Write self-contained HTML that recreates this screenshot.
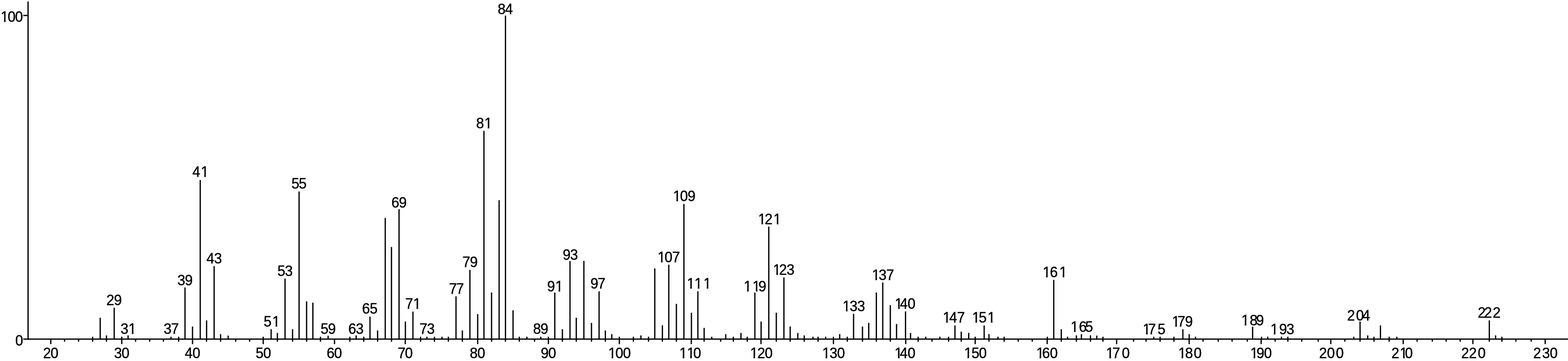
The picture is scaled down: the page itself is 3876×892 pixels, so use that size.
<!DOCTYPE html>
<html><head><meta charset="utf-8"><title>Mass spectrum</title>
<style>html,body{margin:0;padding:0;background:#fff}body{width:3876px;height:892px;overflow:hidden}svg{display:block}</style></head>
<body>
<svg width="3876" height="892" viewBox="0 0 3876 892">
<defs><clipPath id="k1"><path clip-rule="evenodd" d="M-6.4 -40H72.2V6H-6.4ZM13.85 -3.36L13.85 3.00L20.56 3.00L20.56 -0.00L20.56 -0.00L20.56 -0.70L20.56 -0.70L20.56 -1.40L20.56 -1.40L20.56 -2.10L20.56 -2.10L20.56 -2.80L20.56 -2.80L20.56 -3.36ZM9.96 -3.36L9.96 3.00L2.97 3.00L2.97 -0.00L2.97 -0.00L2.97 -0.70L2.97 -0.70L2.97 -1.40L2.97 -1.40L2.97 -2.10L2.97 -2.10L2.97 -2.80L2.97 -2.80L2.97 -3.36Z"/></clipPath>
<clipPath id="k2"><path clip-rule="evenodd" d="M1495.5 -40H1575.1V6H1495.5ZM1515.80 -3.36L1515.80 3.00L1522.51 3.00L1522.51 -0.00L1522.51 -0.00L1522.51 -0.70L1522.51 -0.70L1522.51 -1.40L1522.51 -1.40L1522.51 -2.10L1522.51 -2.10L1522.51 -2.80L1522.51 -2.80L1522.51 -3.36ZM1511.91 -3.36L1511.91 3.00L1504.92 3.00L1504.92 -0.00L1504.92 -0.00L1504.92 -0.70L1504.92 -0.70L1504.92 -1.40L1504.92 -1.40L1504.92 -2.10L1504.92 -2.10L1504.92 -2.80L1504.92 -2.80L1504.92 -3.36Z"/></clipPath>
<clipPath id="k3"><path clip-rule="evenodd" d="M1671.2 -40H1748.8V6H1671.2ZM1691.50 -3.36L1691.50 3.00L1698.21 3.00L1698.21 -0.00L1698.21 -0.00L1698.21 -0.70L1698.21 -0.70L1698.21 -1.40L1698.21 -1.40L1698.21 -2.10L1698.21 -2.10L1698.21 -2.80L1698.21 -2.80L1698.21 -3.36ZM1687.61 -3.36L1687.61 3.00L1680.62 3.00L1680.62 -0.00L1680.62 -0.00L1680.62 -0.70L1680.62 -0.70L1680.62 -1.40L1680.62 -1.40L1680.62 -2.10L1680.62 -2.10L1680.62 -2.80L1680.62 -2.80L1680.62 -3.36ZM1710.20 -3.36L1710.20 3.00L1716.91 3.00L1716.91 -0.00L1716.91 -0.00L1716.91 -0.70L1716.91 -0.70L1716.91 -1.40L1716.91 -1.40L1716.91 -2.10L1716.88 -2.10L1716.88 -2.80L1716.46 -2.80L1716.46 -3.36ZM1706.31 -3.36L1706.31 3.00L1699.32 3.00L1699.32 -0.00L1699.32 -0.00L1699.32 -0.70L1699.32 -0.70L1699.32 -1.40L1699.32 -1.40L1699.32 -2.10L1699.32 -2.10L1699.32 -2.80L1699.32 -2.80L1699.32 -3.36Z"/></clipPath>
<clipPath id="k4"><path clip-rule="evenodd" d="M1846.2 -40H1925.6V6H1846.2ZM1866.50 -3.36L1866.50 3.00L1873.21 3.00L1873.21 -0.00L1873.21 -0.00L1873.21 -0.70L1873.21 -0.70L1873.21 -1.40L1873.21 -1.40L1873.21 -2.10L1873.21 -2.10L1873.21 -2.80L1873.21 -2.80L1873.21 -3.36ZM1862.61 -3.36L1862.61 3.00L1855.62 3.00L1855.62 -0.00L1855.62 -0.00L1855.62 -0.70L1855.62 -0.70L1855.62 -1.40L1855.62 -1.40L1855.62 -2.10L1855.62 -2.10L1855.62 -2.80L1855.62 -2.80L1855.62 -3.36Z"/></clipPath>
<clipPath id="k5"><path clip-rule="evenodd" d="M2024.4 -40H2104.2V6H2024.4ZM2044.70 -3.36L2044.70 3.00L2051.41 3.00L2051.41 -0.00L2051.41 -0.00L2051.41 -0.70L2051.41 -0.70L2051.41 -1.40L2051.41 -1.40L2051.41 -2.10L2051.41 -2.10L2051.41 -2.80L2051.41 -2.80L2051.41 -3.36ZM2040.81 -3.36L2040.81 3.00L2033.82 3.00L2033.82 -0.00L2033.82 -0.00L2033.82 -0.70L2033.82 -0.70L2033.82 -1.40L2033.82 -1.40L2033.82 -2.10L2033.82 -2.10L2033.82 -2.80L2033.82 -2.80L2033.82 -3.36Z"/></clipPath>
<clipPath id="k6"><path clip-rule="evenodd" d="M2203.3 -40H2278.6V6H2203.3ZM2223.60 -3.36L2223.60 3.00L2230.31 3.00L2230.31 -0.00L2230.31 -0.00L2230.31 -0.70L2230.31 -0.70L2230.31 -1.40L2230.31 -1.40L2230.31 -2.10L2230.31 -2.10L2230.31 -2.80L2230.31 -2.80L2230.31 -3.36ZM2219.71 -3.36L2219.71 3.00L2212.72 3.00L2212.72 -0.00L2212.72 -0.00L2212.72 -0.70L2212.72 -0.70L2212.72 -1.40L2212.72 -1.40L2212.72 -2.10L2212.72 -2.10L2212.72 -2.80L2212.72 -2.80L2212.72 -3.36Z"/></clipPath>
<clipPath id="k7"><path clip-rule="evenodd" d="M2375.2 -40H2454.7V6H2375.2ZM2395.50 -3.36L2395.50 3.00L2402.21 3.00L2402.21 -0.00L2402.21 -0.00L2402.21 -0.70L2402.21 -0.70L2402.21 -1.40L2402.21 -1.40L2402.21 -2.10L2402.21 -2.10L2402.21 -2.80L2402.21 -2.80L2402.21 -3.36ZM2391.61 -3.36L2391.61 3.00L2384.62 3.00L2384.62 -0.00L2384.62 -0.00L2384.62 -0.70L2384.62 -0.70L2384.62 -1.40L2384.62 -1.40L2384.62 -2.10L2384.62 -2.10L2384.62 -2.80L2384.62 -2.80L2384.62 -3.36Z"/></clipPath>
<clipPath id="k8"><path clip-rule="evenodd" d="M2553.4 -40H2630.2V6H2553.4ZM2573.70 -3.36L2573.70 3.00L2580.41 3.00L2580.41 -0.00L2580.41 -0.00L2580.41 -0.70L2580.41 -0.70L2580.41 -1.40L2580.09 -1.40L2580.09 -2.10L2579.55 -2.10L2579.55 -2.80L2579.11 -2.80L2579.11 -3.36ZM2569.81 -3.36L2569.81 3.00L2562.82 3.00L2562.82 -0.00L2562.82 -0.00L2562.82 -0.70L2562.82 -0.70L2562.82 -1.40L2562.82 -1.40L2562.82 -2.10L2562.82 -2.10L2562.82 -2.80L2562.82 -2.80L2562.82 -3.36Z"/></clipPath>
<clipPath id="k9"><path clip-rule="evenodd" d="M2726.0 -40H2808.2V6H2726.0ZM2746.30 -3.36L2746.30 3.00L2753.01 3.00L2753.01 -0.00L2753.01 -0.00L2753.01 -0.70L2753.01 -0.70L2753.01 -1.40L2753.01 -1.40L2753.01 -2.10L2753.01 -2.10L2753.01 -2.80L2753.01 -2.80L2753.01 -3.36ZM2742.41 -3.36L2742.41 3.00L2735.42 3.00L2735.42 -0.00L2735.42 -0.00L2735.42 -0.70L2735.42 -0.70L2735.42 -1.40L2735.42 -1.40L2735.42 -2.10L2735.42 -2.10L2735.42 -2.80L2735.42 -2.80L2735.42 -3.36Z"/></clipPath>
<clipPath id="k10"><path clip-rule="evenodd" d="M2904.4 -40H2986.0V6H2904.4ZM2924.70 -3.36L2924.70 3.00L2931.41 3.00L2931.41 -0.00L2931.41 -0.00L2931.41 -0.70L2931.41 -0.70L2931.41 -1.40L2931.41 -1.40L2931.41 -2.10L2931.41 -2.10L2931.41 -2.80L2931.27 -2.80L2931.27 -3.36ZM2920.81 -3.36L2920.81 3.00L2913.82 3.00L2913.82 -0.00L2913.82 -0.00L2913.82 -0.70L2913.82 -0.70L2913.82 -1.40L2913.82 -1.40L2913.82 -2.10L2913.82 -2.10L2913.82 -2.80L2913.82 -2.80L2913.82 -3.36Z"/></clipPath>
<clipPath id="k11"><path clip-rule="evenodd" d="M3082.4 -40H3159.5V6H3082.4ZM3102.70 -3.36L3102.70 3.00L3109.41 3.00L3109.41 -0.00L3109.41 -0.00L3109.41 -0.70L3109.41 -0.70L3109.41 -1.40L3108.83 -1.40L3108.83 -2.10L3108.40 -2.10L3108.40 -2.80L3108.06 -2.80L3108.06 -3.36ZM3098.81 -3.36L3098.81 3.00L3091.82 3.00L3091.82 -0.00L3091.82 -0.00L3091.82 -0.70L3091.82 -0.70L3091.82 -1.40L3091.82 -1.40L3091.82 -2.10L3091.82 -2.10L3091.82 -2.80L3091.82 -2.80L3091.82 -3.36Z"/></clipPath>
<clipPath id="k12"><path clip-rule="evenodd" d="M3431.6 -40H3508.0V6H3431.6ZM3472.40 -3.36L3472.40 3.00L3479.11 3.00L3479.11 -0.00L3478.22 -0.00L3478.22 -0.70L3477.29 -0.70L3477.29 -1.40L3476.61 -1.40L3476.61 -2.10L3476.08 -2.10L3476.08 -2.80L3475.66 -2.80L3475.66 -3.36ZM3468.51 -3.36L3468.51 3.00L3461.52 3.00L3461.52 -0.00L3461.52 -0.00L3461.52 -0.70L3461.52 -0.70L3461.52 -1.40L3461.52 -1.40L3461.52 -2.10L3461.52 -2.10L3461.52 -2.80L3461.52 -2.80L3461.52 -3.36Z"/></clipPath>
<clipPath id="k13"><path clip-rule="evenodd" d="M289.9 -40H352.5V6H289.9ZM329.80 -3.36L329.80 3.00L336.51 3.00L336.51 -0.00L336.51 -0.00L336.51 -0.70L336.51 -0.70L336.51 -1.40L336.51 -1.40L336.51 -2.10L336.51 -2.10L336.51 -2.80L336.51 -2.80L336.51 -3.36ZM325.91 -3.36L325.91 3.00L318.92 3.00L318.92 -0.00L318.92 -0.00L318.92 -0.70L318.92 -0.70L318.92 -1.40L318.92 -1.40L318.92 -2.10L318.92 -2.10L318.92 -2.80L318.92 -2.80L318.92 -3.36Z"/></clipPath>
<clipPath id="k14"><path clip-rule="evenodd" d="M467.4 -40H531.5V6H467.4ZM508.80 -3.36L508.80 3.00L515.51 3.00L515.51 -0.00L515.51 -0.00L515.51 -0.70L515.51 -0.70L515.51 -1.40L515.51 -1.40L515.51 -2.10L515.51 -2.10L515.51 -2.80L515.51 -2.80L515.51 -3.36ZM504.91 -3.36L504.91 3.00L497.92 3.00L497.92 -0.00L497.92 -0.00L497.92 -0.70L497.92 -0.70L497.92 -1.40L497.92 -1.40L497.92 -2.10L497.92 -2.10L497.92 -2.80L497.92 -2.80L497.92 -3.36Z"/></clipPath>
<clipPath id="k15"><path clip-rule="evenodd" d="M643.8 -40H707.9V6H643.8ZM685.20 -3.36L685.20 3.00L691.91 3.00L691.91 -0.00L691.91 -0.00L691.91 -0.70L691.91 -0.70L691.91 -1.40L691.91 -1.40L691.91 -2.10L691.91 -2.10L691.91 -2.80L691.91 -2.80L691.91 -3.36ZM681.31 -3.36L681.31 3.00L674.32 3.00L674.32 -0.00L674.32 -0.00L674.32 -0.70L674.32 -0.70L674.32 -1.40L674.32 -1.40L674.32 -2.10L674.32 -2.10L674.32 -2.80L674.32 -2.80L674.32 -3.36Z"/></clipPath>
<clipPath id="k16"><path clip-rule="evenodd" d="M993.8 -40H1056.2V6H993.8ZM1033.50 -3.36L1033.50 3.00L1040.21 3.00L1040.21 -0.00L1040.21 -0.00L1040.21 -0.70L1040.21 -0.70L1040.21 -1.40L1040.21 -1.40L1040.21 -2.10L1040.21 -2.10L1040.21 -2.80L1040.21 -2.80L1040.21 -3.36ZM1029.61 -3.36L1029.61 3.00L1022.62 3.00L1022.62 -0.00L1022.62 -0.00L1022.62 -0.70L1022.62 -0.70L1022.62 -1.40L1022.62 -1.40L1022.62 -2.10L1022.62 -2.10L1022.62 -2.80L1022.62 -2.80L1022.62 -3.36Z"/></clipPath>
<clipPath id="k17"><path clip-rule="evenodd" d="M1169.1 -40H1232.3V6H1169.1ZM1209.60 -3.36L1209.60 3.00L1216.31 3.00L1216.31 -0.00L1216.31 -0.00L1216.31 -0.70L1216.31 -0.70L1216.31 -1.40L1216.31 -1.40L1216.31 -2.10L1216.31 -2.10L1216.31 -2.80L1216.31 -2.80L1216.31 -3.36ZM1205.71 -3.36L1205.71 3.00L1198.72 3.00L1198.72 -0.00L1198.72 -0.00L1198.72 -0.70L1198.72 -0.70L1198.72 -1.40L1198.72 -1.40L1198.72 -2.10L1198.72 -2.10L1198.72 -2.80L1198.72 -2.80L1198.72 -3.36Z"/></clipPath>
<clipPath id="k18"><path clip-rule="evenodd" d="M1344.6 -40H1407.4V6H1344.6ZM1384.70 -3.36L1384.70 3.00L1391.41 3.00L1391.41 -0.00L1391.41 -0.00L1391.41 -0.70L1391.41 -0.70L1391.41 -1.40L1391.41 -1.40L1391.41 -2.10L1391.41 -2.10L1391.41 -2.80L1391.41 -2.80L1391.41 -3.36ZM1380.81 -3.36L1380.81 3.00L1373.82 3.00L1373.82 -0.00L1373.82 -0.00L1373.82 -0.70L1373.82 -0.70L1373.82 -1.40L1373.82 -1.40L1373.82 -2.10L1373.82 -2.10L1373.82 -2.80L1373.82 -2.80L1373.82 -3.36Z"/></clipPath>
<clipPath id="k19"><path clip-rule="evenodd" d="M1617.5 -40H1696.4V6H1617.5ZM1637.80 -3.36L1637.80 3.00L1644.51 3.00L1644.51 -0.00L1644.51 -0.00L1644.51 -0.70L1644.51 -0.70L1644.51 -1.40L1644.51 -1.40L1644.51 -2.10L1644.51 -2.10L1644.51 -2.80L1644.51 -2.80L1644.51 -3.36ZM1633.91 -3.36L1633.91 3.00L1626.92 3.00L1626.92 -0.00L1626.92 -0.00L1626.92 -0.70L1626.92 -0.70L1626.92 -1.40L1626.92 -1.40L1626.92 -2.10L1626.92 -2.10L1626.92 -2.80L1626.92 -2.80L1626.92 -3.36Z"/></clipPath>
<clipPath id="k20"><path clip-rule="evenodd" d="M1655.7 -40H1734.8V6H1655.7ZM1676.00 -3.36L1676.00 3.00L1682.71 3.00L1682.71 -0.00L1682.71 -0.00L1682.71 -0.70L1682.71 -0.70L1682.71 -1.40L1682.71 -1.40L1682.71 -2.10L1682.71 -2.10L1682.71 -2.80L1682.71 -2.80L1682.71 -3.36ZM1672.11 -3.36L1672.11 3.00L1665.12 3.00L1665.12 -0.00L1665.12 -0.00L1665.12 -0.70L1665.12 -0.70L1665.12 -1.40L1665.12 -1.40L1665.12 -2.10L1665.12 -2.10L1665.12 -2.80L1665.12 -2.80L1665.12 -3.36Z"/></clipPath>
<clipPath id="k21"><path clip-rule="evenodd" d="M1689.9 -40H1773.7V6H1689.9ZM1710.20 -3.36L1710.20 3.00L1716.91 3.00L1716.91 -0.00L1716.91 -0.00L1716.91 -0.70L1716.91 -0.70L1716.91 -1.40L1716.91 -1.40L1716.91 -2.10L1716.91 -2.10L1716.91 -2.80L1716.91 -2.80L1716.91 -3.36ZM1706.31 -3.36L1706.31 3.00L1699.32 3.00L1699.32 -0.00L1699.32 -0.00L1699.32 -0.70L1699.32 -0.70L1699.32 -1.40L1699.32 -1.40L1699.32 -2.10L1699.32 -2.10L1699.32 -2.80L1699.32 -2.80L1699.32 -3.36ZM1728.80 -3.36L1728.80 3.00L1735.51 3.00L1735.51 -0.00L1735.51 -0.00L1735.51 -0.70L1735.51 -0.70L1735.51 -1.40L1735.51 -1.40L1735.51 -2.10L1735.51 -2.10L1735.51 -2.80L1735.51 -2.80L1735.51 -3.36ZM1724.91 -3.36L1724.91 3.00L1717.92 3.00L1717.92 -0.00L1717.92 -0.00L1717.92 -0.70L1717.92 -0.70L1717.92 -1.40L1717.92 -1.40L1717.92 -2.10L1717.92 -2.10L1717.92 -2.80L1717.92 -2.80L1717.92 -3.36ZM1751.00 -3.36L1751.00 3.00L1757.71 3.00L1757.71 -0.00L1757.71 -0.00L1757.71 -0.70L1757.71 -0.70L1757.71 -1.40L1757.71 -1.40L1757.71 -2.10L1757.71 -2.10L1757.71 -2.80L1757.71 -2.80L1757.71 -3.36ZM1747.11 -3.36L1747.11 3.00L1740.12 3.00L1740.12 -0.00L1740.12 -0.00L1740.12 -0.70L1740.12 -0.70L1740.12 -1.40L1740.12 -1.40L1740.12 -2.10L1740.12 -2.10L1740.12 -2.80L1740.12 -2.80L1740.12 -3.36Z"/></clipPath>
<clipPath id="k22"><path clip-rule="evenodd" d="M1830.4 -40H1909.8V6H1830.4ZM1850.70 -3.36L1850.70 3.00L1857.41 3.00L1857.41 -0.00L1857.41 -0.00L1857.41 -0.70L1857.41 -0.70L1857.41 -1.40L1857.41 -1.40L1857.41 -2.10L1857.41 -2.10L1857.41 -2.80L1857.41 -2.80L1857.41 -3.36ZM1846.81 -3.36L1846.81 3.00L1839.82 3.00L1839.82 -0.00L1839.82 -0.00L1839.82 -0.70L1839.82 -0.70L1839.82 -1.40L1839.82 -1.40L1839.82 -2.10L1839.82 -2.10L1839.82 -2.80L1839.82 -2.80L1839.82 -3.36ZM1872.40 -3.36L1872.40 3.00L1879.11 3.00L1879.11 -0.00L1879.11 -0.00L1879.11 -0.70L1878.33 -0.70L1878.33 -1.40L1877.73 -1.40L1877.73 -2.10L1877.30 -2.10L1877.30 -2.80L1876.96 -2.80L1876.96 -3.36ZM1868.51 -3.36L1868.51 3.00L1861.52 3.00L1861.52 -0.00L1861.52 -0.00L1861.52 -0.70L1861.52 -0.70L1861.52 -1.40L1861.52 -1.40L1861.52 -2.10L1861.52 -2.10L1861.52 -2.80L1861.52 -2.80L1861.52 -3.36Z"/></clipPath>
<clipPath id="k23"><path clip-rule="evenodd" d="M1865.9 -40H1946.8V6H1865.9ZM1886.20 -3.36L1886.20 3.00L1892.91 3.00L1892.91 -0.00L1891.68 -0.00L1891.68 -0.70L1891.68 -0.70L1891.68 -1.40L1891.68 -1.40L1891.68 -2.10L1891.68 -2.10L1891.68 -2.80L1891.96 -2.80L1891.96 -3.36ZM1882.31 -3.36L1882.31 3.00L1875.32 3.00L1875.32 -0.00L1875.32 -0.00L1875.32 -0.70L1875.32 -0.70L1875.32 -1.40L1875.32 -1.40L1875.32 -2.10L1875.32 -2.10L1875.32 -2.80L1875.32 -2.80L1875.32 -3.36ZM1924.10 -3.36L1924.10 3.00L1930.81 3.00L1930.81 -0.00L1930.81 -0.00L1930.81 -0.70L1930.81 -0.70L1930.81 -1.40L1930.81 -1.40L1930.81 -2.10L1930.81 -2.10L1930.81 -2.80L1930.81 -2.80L1930.81 -3.36ZM1920.21 -3.36L1920.21 3.00L1913.22 3.00L1913.22 -0.00L1913.22 -0.00L1913.22 -0.70L1913.22 -0.70L1913.22 -1.40L1913.22 -1.40L1913.22 -2.10L1913.22 -2.10L1913.22 -2.80L1913.22 -2.80L1913.22 -3.36Z"/></clipPath>
<clipPath id="k24"><path clip-rule="evenodd" d="M1902.7 -40H1979.4V6H1902.7ZM1923.00 -3.36L1923.00 3.00L1929.71 3.00L1929.71 -0.00L1927.18 -0.00L1927.18 -0.70L1927.18 -0.70L1927.18 -1.40L1927.18 -1.40L1927.18 -2.10L1927.18 -2.10L1927.18 -2.80L1927.46 -2.80L1927.46 -3.36ZM1919.11 -3.36L1919.11 3.00L1912.12 3.00L1912.12 -0.00L1912.12 -0.00L1912.12 -0.70L1912.12 -0.70L1912.12 -1.40L1912.12 -1.40L1912.12 -2.10L1912.12 -2.10L1912.12 -2.80L1912.12 -2.80L1912.12 -3.36Z"/></clipPath>
<clipPath id="k25"><path clip-rule="evenodd" d="M2074.7 -40H2153.9V6H2074.7ZM2095.00 -3.36L2095.00 3.00L2101.71 3.00L2101.71 -0.00L2101.71 -0.00L2101.71 -0.70L2101.71 -0.70L2101.71 -1.40L2101.71 -1.40L2101.71 -2.10L2101.71 -2.10L2101.71 -2.80L2101.71 -2.80L2101.71 -3.36ZM2091.11 -3.36L2091.11 3.00L2084.12 3.00L2084.12 -0.00L2084.12 -0.00L2084.12 -0.70L2084.12 -0.70L2084.12 -1.40L2084.12 -1.40L2084.12 -2.10L2084.12 -2.10L2084.12 -2.80L2084.12 -2.80L2084.12 -3.36Z"/></clipPath>
<clipPath id="k26"><path clip-rule="evenodd" d="M2147.6 -40H2225.8V6H2147.6ZM2167.90 -3.36L2167.90 3.00L2174.61 3.00L2174.61 -0.00L2174.61 -0.00L2174.61 -0.70L2174.61 -0.70L2174.61 -1.40L2174.61 -1.40L2174.61 -2.10L2174.14 -2.10L2174.14 -2.80L2173.74 -2.80L2173.74 -3.36ZM2164.01 -3.36L2164.01 3.00L2157.02 3.00L2157.02 -0.00L2157.02 -0.00L2157.02 -0.70L2157.02 -0.70L2157.02 -1.40L2157.02 -1.40L2157.02 -2.10L2157.02 -2.10L2157.02 -2.80L2157.02 -2.80L2157.02 -3.36Z"/></clipPath>
<clipPath id="k27"><path clip-rule="evenodd" d="M2203.8 -40H2278.6V6H2203.8ZM2224.10 -3.36L2224.10 3.00L2230.81 3.00L2230.81 -0.00L2230.81 -0.00L2230.81 -0.70L2230.81 -0.70L2230.81 -1.40L2230.81 -1.40L2230.81 -2.10L2230.81 -2.10L2230.81 -2.80L2230.81 -2.80L2230.81 -3.36ZM2220.21 -3.36L2220.21 3.00L2213.22 3.00L2213.22 -0.00L2213.22 -0.00L2213.22 -0.70L2213.22 -0.70L2213.22 -1.40L2213.22 -1.40L2213.22 -2.10L2213.22 -2.10L2213.22 -2.80L2213.22 -2.80L2213.22 -3.36Z"/></clipPath>
<clipPath id="k28"><path clip-rule="evenodd" d="M2322.5 -40H2400.8V6H2322.5ZM2342.80 -3.36L2342.80 3.00L2349.51 3.00L2349.51 -0.00L2349.51 -0.00L2349.51 -0.70L2349.51 -0.70L2349.51 -1.40L2349.51 -1.40L2349.51 -2.10L2349.51 -2.10L2349.51 -2.80L2349.51 -2.80L2349.51 -3.36ZM2338.91 -3.36L2338.91 3.00L2331.92 3.00L2331.92 -0.00L2331.92 -0.00L2331.92 -0.70L2331.92 -0.70L2331.92 -1.40L2331.92 -1.40L2331.92 -2.10L2331.92 -2.10L2331.92 -2.80L2331.92 -2.80L2331.92 -3.36Z"/></clipPath>
<clipPath id="k29"><path clip-rule="evenodd" d="M2394.9 -40H2476.0V6H2394.9ZM2415.20 -3.36L2415.20 3.00L2421.91 3.00L2421.91 -0.00L2421.91 -0.00L2421.91 -0.70L2421.91 -0.70L2421.91 -1.40L2421.91 -1.40L2421.91 -2.10L2421.57 -2.10L2421.57 -2.80L2421.16 -2.80L2421.16 -3.36ZM2411.31 -3.36L2411.31 3.00L2404.32 3.00L2404.32 -0.00L2404.32 -0.00L2404.32 -0.70L2404.32 -0.70L2404.32 -1.40L2404.32 -1.40L2404.32 -2.10L2404.32 -2.10L2404.32 -2.80L2404.32 -2.80L2404.32 -3.36ZM2453.30 -3.36L2453.30 3.00L2460.01 3.00L2460.01 -0.00L2460.01 -0.00L2460.01 -0.70L2460.01 -0.70L2460.01 -1.40L2460.01 -1.40L2460.01 -2.10L2460.01 -2.10L2460.01 -2.80L2460.01 -2.80L2460.01 -3.36ZM2449.41 -3.36L2449.41 3.00L2442.42 3.00L2442.42 -0.00L2442.42 -0.00L2442.42 -0.70L2442.42 -0.70L2442.42 -1.40L2442.42 -1.40L2442.42 -2.10L2442.42 -2.10L2442.42 -2.80L2442.42 -2.80L2442.42 -3.36Z"/></clipPath>
<clipPath id="k30"><path clip-rule="evenodd" d="M2569.4 -40H2653.5V6H2569.4ZM2589.70 -3.36L2589.70 3.00L2596.41 3.00L2596.41 -0.00L2596.41 -0.00L2596.41 -0.70L2596.41 -0.70L2596.41 -1.40L2596.41 -1.40L2596.41 -2.10L2596.41 -2.10L2596.41 -2.80L2596.41 -2.80L2596.41 -3.36ZM2585.81 -3.36L2585.81 3.00L2578.82 3.00L2578.82 -0.00L2578.82 -0.00L2578.82 -0.70L2578.82 -0.70L2578.82 -1.40L2578.82 -1.40L2578.82 -2.10L2578.82 -2.10L2578.82 -2.80L2578.82 -2.80L2578.82 -3.36ZM2630.80 -3.36L2630.80 3.00L2637.51 3.00L2637.51 -0.00L2637.51 -0.00L2637.51 -0.70L2637.51 -0.70L2637.51 -1.40L2637.51 -1.40L2637.51 -2.10L2637.51 -2.10L2637.51 -2.80L2637.51 -2.80L2637.51 -3.36ZM2626.91 -3.36L2626.91 3.00L2619.92 3.00L2619.92 -0.00L2619.92 -0.00L2619.92 -0.70L2619.92 -0.70L2619.92 -1.40L2619.92 -1.40L2619.92 -2.10L2619.92 -2.10L2619.92 -2.80L2619.92 -2.80L2619.92 -3.36Z"/></clipPath>
<clipPath id="k31"><path clip-rule="evenodd" d="M2638.5 -40H2717.4V6H2638.5ZM2658.80 -3.36L2658.80 3.00L2665.51 3.00L2665.51 -0.00L2665.51 -0.00L2665.51 -0.70L2665.51 -0.70L2665.51 -1.40L2665.51 -1.40L2665.51 -2.10L2665.51 -2.10L2665.51 -2.80L2665.51 -2.80L2665.51 -3.36ZM2654.91 -3.36L2654.91 3.00L2647.92 3.00L2647.92 -0.00L2647.92 -0.00L2647.92 -0.70L2647.92 -0.70L2647.92 -1.40L2647.92 -1.40L2647.92 -2.10L2647.92 -2.10L2647.92 -2.80L2647.92 -2.80L2647.92 -3.36Z"/></clipPath>
<clipPath id="k32"><path clip-rule="evenodd" d="M2816.7 -40H2896.5V6H2816.7ZM2837.00 -3.36L2837.00 3.00L2843.71 3.00L2843.71 -0.00L2843.71 -0.00L2843.71 -0.70L2843.71 -0.70L2843.71 -1.40L2843.71 -1.40L2843.71 -2.10L2843.71 -2.10L2843.71 -2.80L2843.71 -2.80L2843.71 -3.36ZM2833.11 -3.36L2833.11 3.00L2826.12 3.00L2826.12 -0.00L2826.12 -0.00L2826.12 -0.70L2826.12 -0.70L2826.12 -1.40L2826.12 -1.40L2826.12 -2.10L2826.12 -2.10L2826.12 -2.80L2826.12 -2.80L2826.12 -3.36Z"/></clipPath>
<clipPath id="k33"><path clip-rule="evenodd" d="M2888.9 -40H2964.3V6H2888.9ZM2909.20 -3.36L2909.20 3.00L2915.91 3.00L2915.91 -0.00L2915.91 -0.00L2915.91 -0.70L2915.91 -0.70L2915.91 -1.40L2915.91 -1.40L2915.91 -2.10L2915.91 -2.10L2915.91 -2.80L2915.91 -2.80L2915.91 -3.36ZM2905.31 -3.36L2905.31 3.00L2898.32 3.00L2898.32 -0.00L2898.32 -0.00L2898.32 -0.70L2898.32 -0.70L2898.32 -1.40L2898.32 -1.40L2898.32 -2.10L2898.32 -2.10L2898.32 -2.80L2898.32 -2.80L2898.32 -3.36Z"/></clipPath>
<clipPath id="k34"><path clip-rule="evenodd" d="M3060.5 -40H3140.1V6H3060.5ZM3080.80 -3.36L3080.80 3.00L3087.51 3.00L3087.51 -0.00L3087.51 -0.00L3087.51 -0.70L3087.51 -0.70L3087.51 -1.40L3087.51 -1.40L3087.51 -2.10L3087.51 -2.10L3087.51 -2.80L3087.51 -2.80L3087.51 -3.36ZM3076.91 -3.36L3076.91 3.00L3069.92 3.00L3069.92 -0.00L3069.92 -0.00L3069.92 -0.70L3069.92 -0.70L3069.92 -1.40L3069.92 -1.40L3069.92 -2.10L3069.92 -2.10L3069.92 -2.80L3069.92 -2.80L3069.92 -3.36Z"/></clipPath>
<clipPath id="k35"><path clip-rule="evenodd" d="M3132.4 -40H3215.0V6H3132.4ZM3152.70 -3.36L3152.70 3.00L3159.41 3.00L3159.41 -0.00L3159.41 -0.00L3159.41 -0.70L3159.41 -0.70L3159.41 -1.40L3159.41 -1.40L3159.41 -2.10L3159.41 -2.10L3159.41 -2.80L3159.41 -2.80L3159.41 -3.36ZM3148.81 -3.36L3148.81 3.00L3141.82 3.00L3141.82 -0.00L3141.82 -0.00L3141.82 -0.70L3141.82 -0.70L3141.82 -1.40L3141.82 -1.40L3141.82 -2.10L3141.82 -2.10L3141.82 -2.80L3141.82 -2.80L3141.82 -3.36Z"/></clipPath></defs>
<rect width="3876" height="892" fill="#fff"/>
<g fill="#000">
<!-- axes -->
<rect x="67.79" y="3.8" width="3.12" height="835.7"/>
<rect x="57.5" y="836.34" width="3818.5" height="3.12"/>
<rect x="57.5" y="36.64" width="11.9" height="3.12"/>
<!-- ticks -->
<rect x="124.04" y="837.9" width="3.12" height="12.4"/>
<rect x="299.44" y="837.9" width="3.12" height="12.4"/>
<rect x="474.34" y="837.9" width="3.12" height="12.4"/>
<rect x="649.14" y="837.9" width="3.12" height="12.4"/>
<rect x="825.34" y="837.9" width="3.12" height="12.4"/>
<rect x="1000.24" y="837.9" width="3.12" height="12.4"/>
<rect x="1179.24" y="837.9" width="3.12" height="12.4"/>
<rect x="1354.04" y="837.9" width="3.12" height="12.4"/>
<rect x="1529.44" y="837.9" width="3.12" height="12.4"/>
<rect x="1707.34" y="837.9" width="3.12" height="12.4"/>
<rect x="1879.54" y="837.9" width="3.12" height="12.4"/>
<rect x="2058.64" y="837.9" width="3.12" height="12.4"/>
<rect x="2237.34" y="837.9" width="3.12" height="12.4"/>
<rect x="2409.04" y="837.9" width="3.12" height="12.4"/>
<rect x="2587.04" y="837.9" width="3.12" height="12.4"/>
<rect x="2758.64" y="837.9" width="3.12" height="12.4"/>
<rect x="2937.94" y="837.9" width="3.12" height="12.4"/>
<rect x="3115.84" y="837.9" width="3.12" height="12.4"/>
<rect x="3288.14" y="837.9" width="3.12" height="12.4"/>
<rect x="3467.14" y="837.9" width="3.12" height="12.4"/>
<rect x="3639.34" y="837.9" width="3.12" height="12.4"/>
<rect x="3818.04" y="837.9" width="3.12" height="12.4"/>
<rect x="158.04" y="837.9" width="3.12" height="6.4"/>
<rect x="192.64" y="837.9" width="3.12" height="6.4"/>
<rect x="227.34" y="837.9" width="3.12" height="6.4"/>
<rect x="261.64" y="837.9" width="3.12" height="6.4"/>
<rect x="333.54" y="837.9" width="3.12" height="6.4"/>
<rect x="368.44" y="837.9" width="3.12" height="6.4"/>
<rect x="402.44" y="837.9" width="3.12" height="6.4"/>
<rect x="440.04" y="837.9" width="3.12" height="6.4"/>
<rect x="508.94" y="837.9" width="3.12" height="6.4"/>
<rect x="543.64" y="837.9" width="3.12" height="6.4"/>
<rect x="581.14" y="837.9" width="3.12" height="6.4"/>
<rect x="615.44" y="837.9" width="3.12" height="6.4"/>
<rect x="684.14" y="837.9" width="3.12" height="6.4"/>
<rect x="721.64" y="837.9" width="3.12" height="6.4"/>
<rect x="756.34" y="837.9" width="3.12" height="6.4"/>
<rect x="790.64" y="837.9" width="3.12" height="6.4"/>
<rect x="863.24" y="837.9" width="3.12" height="6.4"/>
<rect x="897.54" y="837.9" width="3.12" height="6.4"/>
<rect x="931.84" y="837.9" width="3.12" height="6.4"/>
<rect x="966.24" y="837.9" width="3.12" height="6.4"/>
<rect x="1038.04" y="837.9" width="3.12" height="6.4"/>
<rect x="1072.34" y="837.9" width="3.12" height="6.4"/>
<rect x="1106.74" y="837.9" width="3.12" height="6.4"/>
<rect x="1141.34" y="837.9" width="3.12" height="6.4"/>
<rect x="1213.54" y="837.9" width="3.12" height="6.4"/>
<rect x="1247.84" y="837.9" width="3.12" height="6.4"/>
<rect x="1282.14" y="837.9" width="3.12" height="6.4"/>
<rect x="1319.74" y="837.9" width="3.12" height="6.4"/>
<rect x="1388.64" y="837.9" width="3.12" height="6.4"/>
<rect x="1422.94" y="837.9" width="3.12" height="6.4"/>
<rect x="1460.54" y="837.9" width="3.12" height="6.4"/>
<rect x="1494.84" y="837.9" width="3.12" height="6.4"/>
<rect x="1564.14" y="837.9" width="3.12" height="6.4"/>
<rect x="1601.54" y="837.9" width="3.12" height="6.4"/>
<rect x="1635.84" y="837.9" width="3.12" height="6.4"/>
<rect x="1670.44" y="837.9" width="3.12" height="6.4"/>
<rect x="1739.04" y="837.9" width="3.12" height="6.4"/>
<rect x="1779.84" y="837.9" width="3.12" height="6.4"/>
<rect x="1811.24" y="837.9" width="3.12" height="6.4"/>
<rect x="1845.54" y="837.9" width="3.12" height="6.4"/>
<rect x="1917.44" y="837.9" width="3.12" height="6.4"/>
<rect x="1951.74" y="837.9" width="3.12" height="6.4"/>
<rect x="1986.44" y="837.9" width="3.12" height="6.4"/>
<rect x="2020.64" y="837.9" width="3.12" height="6.4"/>
<rect x="2092.84" y="837.9" width="3.12" height="6.4"/>
<rect x="2130.44" y="837.9" width="3.12" height="6.4"/>
<rect x="2164.74" y="837.9" width="3.12" height="6.4"/>
<rect x="2199.24" y="837.9" width="3.12" height="6.4"/>
<rect x="2268.04" y="837.9" width="3.12" height="6.4"/>
<rect x="2302.34" y="837.9" width="3.12" height="6.4"/>
<rect x="2343.24" y="837.9" width="3.12" height="6.4"/>
<rect x="2374.54" y="837.9" width="3.12" height="6.4"/>
<rect x="2443.14" y="837.9" width="3.12" height="6.4"/>
<rect x="2480.64" y="837.9" width="3.12" height="6.4"/>
<rect x="2515.44" y="837.9" width="3.12" height="6.4"/>
<rect x="2550.14" y="837.9" width="3.12" height="6.4"/>
<rect x="2621.84" y="837.9" width="3.12" height="6.4"/>
<rect x="2659.24" y="837.9" width="3.12" height="6.4"/>
<rect x="2694.04" y="837.9" width="3.12" height="6.4"/>
<rect x="2724.84" y="837.9" width="3.12" height="6.4"/>
<rect x="2800.44" y="837.9" width="3.12" height="6.4"/>
<rect x="2831.44" y="837.9" width="3.12" height="6.4"/>
<rect x="2866.14" y="837.9" width="3.12" height="6.4"/>
<rect x="2900.34" y="837.9" width="3.12" height="6.4"/>
<rect x="2972.34" y="837.9" width="3.12" height="6.4"/>
<rect x="3009.84" y="837.9" width="3.12" height="6.4"/>
<rect x="3044.14" y="837.9" width="3.12" height="6.4"/>
<rect x="3081.74" y="837.9" width="3.12" height="6.4"/>
<rect x="3150.54" y="837.9" width="3.12" height="6.4"/>
<rect x="3181.94" y="837.9" width="3.12" height="6.4"/>
<rect x="3216.24" y="837.9" width="3.12" height="6.4"/>
<rect x="3257.04" y="837.9" width="3.12" height="6.4"/>
<rect x="3322.74" y="837.9" width="3.12" height="6.4"/>
<rect x="3360.44" y="837.9" width="3.12" height="6.4"/>
<rect x="3394.84" y="837.9" width="3.12" height="6.4"/>
<rect x="3432.44" y="837.9" width="3.12" height="6.4"/>
<rect x="3501.44" y="837.9" width="3.12" height="6.4"/>
<rect x="3539.04" y="837.9" width="3.12" height="6.4"/>
<rect x="3573.34" y="837.9" width="3.12" height="6.4"/>
<rect x="3607.94" y="837.9" width="3.12" height="6.4"/>
<rect x="3679.94" y="837.9" width="3.12" height="6.4"/>
<rect x="3711.04" y="837.9" width="3.12" height="6.4"/>
<rect x="3745.54" y="837.9" width="3.12" height="6.4"/>
<rect x="3783.44" y="837.9" width="3.12" height="6.4"/>
<!-- peaks -->
<rect x="227.34" y="832.0" width="3.12" height="5.9"/>
<rect x="246.14" y="785.1" width="3.12" height="52.8"/>
<rect x="261.64" y="828.8" width="3.12" height="9.1"/>
<rect x="280.74" y="760.4" width="3.12" height="77.5"/>
<rect x="299.44" y="832.0" width="3.12" height="5.9"/>
<rect x="315.04" y="828.8" width="3.12" height="9.1"/>
<rect x="421.24" y="832.0" width="3.12" height="5.9"/>
<rect x="440.04" y="832.0" width="3.12" height="5.9"/>
<rect x="455.74" y="710.2" width="3.12" height="127.7"/>
<rect x="474.34" y="807.0" width="3.12" height="30.9"/>
<rect x="493.44" y="444.8" width="3.12" height="393.1"/>
<rect x="509.14" y="791.7" width="3.12" height="46.2"/>
<rect x="527.74" y="657.5" width="3.12" height="180.4"/>
<rect x="543.74" y="825.6" width="3.12" height="12.3"/>
<rect x="562.44" y="829.2" width="3.12" height="8.7"/>
<rect x="649.14" y="832.0" width="3.12" height="5.9"/>
<rect x="668.64" y="813.4" width="3.12" height="24.5"/>
<rect x="684.14" y="822.7" width="3.12" height="15.2"/>
<rect x="703.04" y="688.4" width="3.12" height="149.5"/>
<rect x="721.64" y="813.3" width="3.12" height="24.6"/>
<rect x="737.74" y="473.1" width="3.12" height="364.8"/>
<rect x="756.34" y="744.7" width="3.12" height="93.2"/>
<rect x="771.84" y="747.9" width="3.12" height="90.0"/>
<rect x="790.64" y="832.0" width="3.12" height="5.9"/>
<rect x="809.54" y="829.5" width="3.12" height="8.4"/>
<rect x="863.24" y="832.0" width="3.12" height="5.9"/>
<rect x="878.84" y="828.8" width="3.12" height="9.1"/>
<rect x="897.54" y="832.0" width="3.12" height="5.9"/>
<rect x="913.04" y="782.4" width="3.12" height="55.5"/>
<rect x="931.84" y="816.5" width="3.12" height="21.4"/>
<rect x="950.74" y="538.4" width="3.12" height="299.5"/>
<rect x="966.14" y="610.3" width="3.12" height="227.6"/>
<rect x="984.84" y="516.8" width="3.12" height="321.1"/>
<rect x="1000.54" y="794.5" width="3.12" height="43.4"/>
<rect x="1019.24" y="769.9" width="3.12" height="68.0"/>
<rect x="1038.04" y="832.0" width="3.12" height="5.9"/>
<rect x="1053.64" y="832.0" width="3.12" height="5.9"/>
<rect x="1072.34" y="832.0" width="3.12" height="5.9"/>
<rect x="1091.14" y="832.0" width="3.12" height="5.9"/>
<rect x="1106.74" y="832.0" width="3.12" height="5.9"/>
<rect x="1125.64" y="732.3" width="3.12" height="105.6"/>
<rect x="1141.34" y="816.5" width="3.12" height="21.4"/>
<rect x="1160.04" y="666.8" width="3.12" height="171.1"/>
<rect x="1179.24" y="776.1" width="3.12" height="61.8"/>
<rect x="1194.74" y="323.3" width="3.12" height="514.6"/>
<rect x="1213.54" y="722.7" width="3.12" height="115.2"/>
<rect x="1232.24" y="494.8" width="3.12" height="343.1"/>
<rect x="1247.94" y="38.5" width="3.12" height="799.4"/>
<rect x="1266.64" y="766.7" width="3.12" height="71.2"/>
<rect x="1282.14" y="832.0" width="3.12" height="5.9"/>
<rect x="1300.94" y="832.0" width="3.12" height="5.9"/>
<rect x="1335.24" y="832.0" width="3.12" height="5.9"/>
<rect x="1354.04" y="832.0" width="3.12" height="5.9"/>
<rect x="1369.84" y="723.0" width="3.12" height="114.9"/>
<rect x="1388.64" y="813.3" width="3.12" height="24.6"/>
<rect x="1407.44" y="644.9" width="3.12" height="193.0"/>
<rect x="1422.94" y="785.1" width="3.12" height="52.8"/>
<rect x="1441.74" y="644.6" width="3.12" height="193.3"/>
<rect x="1460.54" y="797.8" width="3.12" height="40.1"/>
<rect x="1479.34" y="719.9" width="3.12" height="118.0"/>
<rect x="1494.84" y="816.5" width="3.12" height="21.4"/>
<rect x="1510.74" y="825.6" width="3.12" height="12.3"/>
<rect x="1529.44" y="832.0" width="3.12" height="5.9"/>
<rect x="1564.14" y="832.0" width="3.12" height="5.9"/>
<rect x="1582.74" y="828.8" width="3.12" height="9.1"/>
<rect x="1601.54" y="832.0" width="3.12" height="5.9"/>
<rect x="1617.04" y="663.3" width="3.12" height="174.6"/>
<rect x="1635.84" y="803.9" width="3.12" height="34.0"/>
<rect x="1651.64" y="654.1" width="3.12" height="183.8"/>
<rect x="1670.44" y="750.8" width="3.12" height="87.1"/>
<rect x="1689.04" y="504.0" width="3.12" height="333.9"/>
<rect x="1707.64" y="772.8" width="3.12" height="65.1"/>
<rect x="1723.54" y="719.8" width="3.12" height="118.1"/>
<rect x="1739.04" y="810.1" width="3.12" height="27.8"/>
<rect x="1757.84" y="832.0" width="3.12" height="5.9"/>
<rect x="1792.44" y="825.6" width="3.12" height="12.3"/>
<rect x="1811.24" y="832.0" width="3.12" height="5.9"/>
<rect x="1830.04" y="822.7" width="3.12" height="15.2"/>
<rect x="1845.54" y="832.0" width="3.12" height="5.9"/>
<rect x="1864.44" y="722.8" width="3.12" height="115.1"/>
<rect x="1879.84" y="794.5" width="3.12" height="43.4"/>
<rect x="1898.84" y="560.0" width="3.12" height="277.9"/>
<rect x="1917.44" y="772.8" width="3.12" height="65.1"/>
<rect x="1936.24" y="685.5" width="3.12" height="152.4"/>
<rect x="1951.74" y="806.8" width="3.12" height="31.1"/>
<rect x="1970.54" y="822.7" width="3.12" height="15.2"/>
<rect x="1986.44" y="828.8" width="3.12" height="9.1"/>
<rect x="2008.04" y="832.0" width="3.12" height="5.9"/>
<rect x="2020.64" y="832.0" width="3.12" height="5.9"/>
<rect x="2039.44" y="832.0" width="3.12" height="5.9"/>
<rect x="2058.54" y="832.0" width="3.12" height="5.9"/>
<rect x="2074.14" y="825.6" width="3.12" height="12.3"/>
<rect x="2092.84" y="832.0" width="3.12" height="5.9"/>
<rect x="2108.44" y="775.4" width="3.12" height="62.5"/>
<rect x="2130.44" y="806.8" width="3.12" height="31.1"/>
<rect x="2145.94" y="797.8" width="3.12" height="40.1"/>
<rect x="2164.74" y="722.6" width="3.12" height="115.3"/>
<rect x="2180.54" y="698.0" width="3.12" height="139.9"/>
<rect x="2199.24" y="753.9" width="3.12" height="84.0"/>
<rect x="2214.64" y="800.7" width="3.12" height="37.2"/>
<rect x="2236.84" y="769.5" width="3.12" height="68.4"/>
<rect x="2249.24" y="822.7" width="3.12" height="15.2"/>
<rect x="2268.04" y="832.0" width="3.12" height="5.9"/>
<rect x="2286.84" y="832.0" width="3.12" height="5.9"/>
<rect x="2321.64" y="832.0" width="3.12" height="5.9"/>
<rect x="2343.24" y="832.0" width="3.12" height="5.9"/>
<rect x="2359.04" y="804.2" width="3.12" height="33.7"/>
<rect x="2374.54" y="819.5" width="3.12" height="18.4"/>
<rect x="2393.04" y="822.5" width="3.12" height="15.4"/>
<rect x="2409.04" y="832.0" width="3.12" height="5.9"/>
<rect x="2431.24" y="804.2" width="3.12" height="33.7"/>
<rect x="2443.14" y="825.6" width="3.12" height="12.3"/>
<rect x="2465.34" y="832.0" width="3.12" height="5.9"/>
<rect x="2480.64" y="832.0" width="3.12" height="5.9"/>
<rect x="2587.44" y="832.0" width="3.12" height="5.9"/>
<rect x="2603.24" y="691.6" width="3.12" height="146.3"/>
<rect x="2621.84" y="813.4" width="3.12" height="24.5"/>
<rect x="2637.34" y="832.0" width="3.12" height="5.9"/>
<rect x="2659.24" y="828.7" width="3.12" height="9.2"/>
<rect x="2671.64" y="825.6" width="3.12" height="12.3"/>
<rect x="2694.04" y="828.7" width="3.12" height="9.2"/>
<rect x="2709.54" y="829.2" width="3.12" height="8.7"/>
<rect x="2724.84" y="832.0" width="3.12" height="5.9"/>
<rect x="2850.44" y="832.0" width="3.12" height="5.9"/>
<rect x="2866.14" y="832.0" width="3.12" height="5.9"/>
<rect x="2900.34" y="832.0" width="3.12" height="5.9"/>
<rect x="2922.44" y="813.5" width="3.12" height="24.4"/>
<rect x="2938.04" y="825.6" width="3.12" height="12.3"/>
<rect x="2953.54" y="832.0" width="3.12" height="5.9"/>
<rect x="3094.84" y="807.3" width="3.12" height="30.6"/>
<rect x="3116.94" y="832.0" width="3.12" height="5.9"/>
<rect x="3132.24" y="832.0" width="3.12" height="5.9"/>
<rect x="3166.04" y="832.0" width="3.12" height="5.9"/>
<rect x="3181.94" y="832.0" width="3.12" height="5.9"/>
<rect x="3344.84" y="832.0" width="3.12" height="5.9"/>
<rect x="3360.44" y="794.6" width="3.12" height="43.3"/>
<rect x="3379.34" y="828.7" width="3.12" height="9.2"/>
<rect x="3394.84" y="832.0" width="3.12" height="5.9"/>
<rect x="3410.84" y="804.2" width="3.12" height="33.7"/>
<rect x="3432.44" y="832.0" width="3.12" height="5.9"/>
<rect x="3451.34" y="832.0" width="3.12" height="5.9"/>
<rect x="3679.94" y="791.7" width="3.12" height="46.2"/>
<rect x="3695.44" y="828.7" width="3.12" height="9.2"/>
<rect x="3711.04" y="832.0" width="3.12" height="5.9"/>
</g>
<g font-family="'Liberation Sans', Arial, Helvetica, sans-serif" font-size="35" fill="#000" stroke="#000" stroke-width="0.5">
<!-- axis labels -->
<text transform="translate(0 54.2) scale(1 1.03)" x="1.6 18.9 37.2" y="0" clip-path="url(#k1)">100</text>
<text transform="translate(0 853.8) scale(1 1.03)" x="37.7" y="0">0</text>
<text transform="translate(0 885.3) scale(1 1.03)" x="106.4 124.9" y="0">20</text>
<text transform="translate(0 885.3) scale(1 1.03)" x="282.0 300.5" y="0">30</text>
<text transform="translate(0 885.3) scale(1 1.03)" x="456.7 475.7" y="0">40</text>
<text transform="translate(0 885.3) scale(1 1.03)" x="632.0 650.8" y="0">50</text>
<text transform="translate(0 885.3) scale(1 1.03)" x="807.5 825.9" y="0">60</text>
<text transform="translate(0 885.3) scale(1 1.03)" x="982.9 1001.1" y="0">70</text>
<text transform="translate(0 885.3) scale(1 1.03)" x="1161.3 1179.9" y="0">80</text>
<text transform="translate(0 885.3) scale(1 1.03)" x="1336.8 1355.2" y="0">90</text>
<text transform="translate(0 885.3) scale(1 1.03)" x="1503.5 1521.2 1540.1" y="0" clip-path="url(#k2)">100</text>
<text transform="translate(0 885.3) scale(1 1.03)" x="1679.2 1697.9 1713.8" y="0" clip-path="url(#k3)">110</text>
<text transform="translate(0 885.3) scale(1 1.03)" x="1854.2 1871.9 1890.6" y="0" clip-path="url(#k4)">120</text>
<text transform="translate(0 885.3) scale(1 1.03)" x="2032.4 2050.4 2069.2" y="0" clip-path="url(#k5)">130</text>
<text transform="translate(0 885.3) scale(1 1.03)" x="2211.3 2224.3 2243.6" y="0" clip-path="url(#k6)">140</text>
<text transform="translate(0 885.3) scale(1 1.03)" x="2383.2 2401.5 2419.7" y="0" clip-path="url(#k7)">150</text>
<text transform="translate(0 885.3) scale(1 1.03)" x="2561.4 2576.0 2595.2" y="0" clip-path="url(#k8)">160</text>
<text transform="translate(0 885.3) scale(1 1.03)" x="2734.0 2749.5 2773.2" y="0" clip-path="url(#k9)">170</text>
<text transform="translate(0 885.3) scale(1 1.03)" x="2912.4 2929.5 2951.0" y="0" clip-path="url(#k10)">180</text>
<text transform="translate(0 885.3) scale(1 1.03)" x="3090.4 3105.9 3124.5" y="0" clip-path="url(#k11)">190</text>
<text transform="translate(0 885.3) scale(1 1.03)" x="3260.7 3280.2 3302.2" y="0">200</text>
<text transform="translate(0 885.3) scale(1 1.03)" x="3439.6 3460.1 3473.0" y="0" clip-path="url(#k12)">210</text>
<text transform="translate(0 885.3) scale(1 1.03)" x="3612.0 3631.0 3653.1" y="0">220</text>
<text transform="translate(0 885.3) scale(1 1.03)" x="3790.1 3812.1 3830.9" y="0">230</text>
<!-- peak labels -->
<text transform="translate(0 753.7) scale(1 1.03)" x="262.9 281.8" y="0">29</text>
<text transform="translate(0 825.4) scale(1 1.03)" x="297.9 317.5" y="0" clip-path="url(#k13)">31</text>
<text transform="translate(0 825.4) scale(1 1.03)" x="404.6 422.8" y="0">37</text>
<text transform="translate(0 704.5) scale(1 1.03)" x="438.5 457.0" y="0">39</text>
<text transform="translate(0 437.3) scale(1 1.03)" x="475.4 496.5" y="0" clip-path="url(#k14)">41</text>
<text transform="translate(0 650.5) scale(1 1.03)" x="510.3 529.3" y="0">43</text>
<text transform="translate(0 806.6) scale(1 1.03)" x="651.8 672.9" y="0" clip-path="url(#k15)">51</text>
<text transform="translate(0 681.6) scale(1 1.03)" x="685.7 704.3" y="0">53</text>
<text transform="translate(0 466.4) scale(1 1.03)" x="720.6 738.6" y="0">55</text>
<text transform="translate(0 825.4) scale(1 1.03)" x="792.5 810.7" y="0">59</text>
<text transform="translate(0 825.4) scale(1 1.03)" x="861.0 879.4" y="0">63</text>
<text transform="translate(0 775.3) scale(1 1.03)" x="895.1 913.9" y="0">65</text>
<text transform="translate(0 513.0) scale(1 1.03)" x="967.4 986.0" y="0">69</text>
<text transform="translate(0 763.0) scale(1 1.03)" x="1001.8 1021.2" y="0" clip-path="url(#k16)">71</text>
<text transform="translate(0 825.4) scale(1 1.03)" x="1037.1 1055.3" y="0">73</text>
<text transform="translate(0 726.0) scale(1 1.03)" x="1109.9 1127.6" y="0">77</text>
<text transform="translate(0 659.7) scale(1 1.03)" x="1143.1 1161.6" y="0">79</text>
<text transform="translate(0 317.3) scale(1 1.03)" x="1177.1 1197.3" y="0" clip-path="url(#k17)">81</text>
<text transform="translate(0 34.6) scale(1 1.03)" x="1230.2 1248.4" y="0">84</text>
<text transform="translate(0 825.4) scale(1 1.03)" x="1317.7 1336.1" y="0">89</text>
<text transform="translate(0 719.5) scale(1 1.03)" x="1352.6 1372.4" y="0" clip-path="url(#k18)">91</text>
<text transform="translate(0 641.5) scale(1 1.03)" x="1390.9 1409.3" y="0">93</text>
<text transform="translate(0 712.5) scale(1 1.03)" x="1459.4 1477.3" y="0">97</text>
<text transform="translate(0 648.0) scale(1 1.03)" x="1625.5 1642.7 1661.4" y="0" clip-path="url(#k19)">107</text>
<text transform="translate(0 497.2) scale(1 1.03)" x="1663.7 1681.0 1699.8" y="0" clip-path="url(#k20)">109</text>
<text transform="translate(0 712.5) scale(1 1.03)" x="1697.9 1716.5 1738.7" y="0" clip-path="url(#k21)">111</text>
<text transform="translate(0 719.8) scale(1 1.03)" x="1838.4 1860.1 1874.8" y="0" clip-path="url(#k22)">119</text>
<text transform="translate(0 553.5) scale(1 1.03)" x="1873.9 1890.3 1911.8" y="0" clip-path="url(#k23)">121</text>
<text transform="translate(0 678.5) scale(1 1.03)" x="1910.7 1925.8 1944.4" y="0" clip-path="url(#k24)">123</text>
<text transform="translate(0 769.0) scale(1 1.03)" x="2082.7 2100.3 2118.9" y="0" clip-path="url(#k25)">133</text>
<text transform="translate(0 692.3) scale(1 1.03)" x="2155.6 2172.0 2190.8" y="0" clip-path="url(#k26)">137</text>
<text transform="translate(0 762.7) scale(1 1.03)" x="2211.8 2224.5 2243.6" y="0" clip-path="url(#k27)">140</text>
<text transform="translate(0 797.3) scale(1 1.03)" x="2330.5 2346.6 2365.8" y="0" clip-path="url(#k28)">147</text>
<text transform="translate(0 797.3) scale(1 1.03)" x="2402.9 2419.5 2441.0" y="0" clip-path="url(#k29)">151</text>
<text transform="translate(0 684.8) scale(1 1.03)" x="2577.4 2595.3 2618.5" y="0" clip-path="url(#k30)">161</text>
<text transform="translate(0 819.6) scale(1 1.03)" x="2646.5 2666.9 2682.4" y="0" clip-path="url(#k31)">165</text>
<text transform="translate(0 825.8) scale(1 1.03)" x="2824.7 2838.1 2861.5" y="0" clip-path="url(#k32)">175</text>
<text transform="translate(0 806.8) scale(1 1.03)" x="2896.9 2910.6 2929.3" y="0" clip-path="url(#k33)">179</text>
<text transform="translate(0 804.0) scale(1 1.03)" x="3068.5 3089.3 3105.1" y="0" clip-path="url(#k34)">189</text>
<text transform="translate(0 825.8) scale(1 1.03)" x="3140.4 3161.9 3180.0" y="0" clip-path="url(#k35)">193</text>
<text transform="translate(0 791.7) scale(1 1.03)" x="3330.1 3352.1 3367.5" y="0">204</text>
<text transform="translate(0 784.6) scale(1 1.03)" x="3653.0 3668.8 3690.1" y="0">222</text>
</g>
</svg>
</body></html>
